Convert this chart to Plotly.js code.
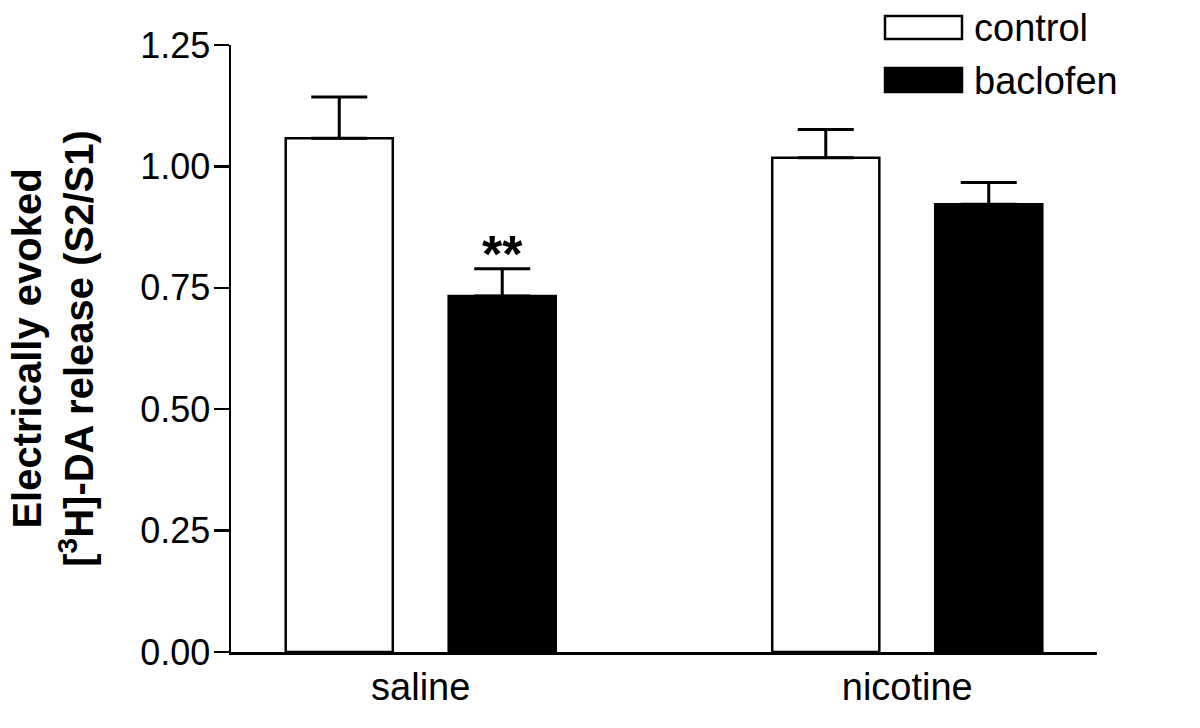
<!DOCTYPE html>
<html>
<head>
<meta charset="utf-8">
<script src="https://cdn.plot.ly/plotly-3.0.1.min.js"></script>
<style>
  body { margin: 0; background: #fff; }
  #chart { width: 1200px; height: 728px; }
</style>
</head>
<body>
<div id="chart"></div>
<script>
// datos
var grupos = ['saline', 'nicotine'];
var series = ['control', 'baclofen'];
var controlMedia = [1.058, 1.018];
var controlError = [0.085, 0.058];
var baclofenMedia = [0.733, 0.922];
var baclofenError = [0.056, 0.045];
var marcas = ['**', ''];
var ticksY = [0, 0.25, 0.5, 0.75, 1.0, 1.25];

var fuente = 'Arial, "Liberation Sans", sans-serif';

// margenes de la zona de dibujo (px)
var izq = 231, der = 1097, arriba = 45, abajo = 652;
function px2x(px) { return (px - izq) / (der - izq); }
function py2y(py) { return (abajo - py) / (abajo - arriba); }

function ceros(arr) { return arr.map(function () { return 0; }); }

var traceA = {
  x: grupos,
  y: controlMedia,
  name: series[0],
  type: 'bar',
  marker: { color: '#ffffff', line: { color: '#000000', width: 2.5 } },
  error_y: { type: 'data', symmetric: false, array: controlError, arrayminus: ceros(controlError),
             color: '#000000', thickness: 3, width: 28 },
  hoverinfo: 'none'
};
var traceB = {
  x: grupos,
  y: baclofenMedia,
  name: series[1],
  type: 'bar',
  marker: { color: '#000000', line: { color: '#000000', width: 2.5 } },
  error_y: { type: 'data', symmetric: false, array: baclofenError, arrayminus: ceros(baclofenError),
             color: '#000000', thickness: 3, width: 28 },
  hoverinfo: 'none'
};
var data = [traceA, traceB];

// asteriscos sobre las barras de baclofen
var notas = [];
for (var i = 0; i < grupos.length; i++) {
  if (marcas[i] !== '') {
    notas.push({
      x: i + 0.1675, y: baclofenMedia[i] + baclofenError[i],
      xref: 'x', yref: 'y', text: marcas[i], showarrow: false,
      yanchor: 'bottom', yshift: -16,
      font: { family: fuente, size: 52, weight: 'bold', color: '#000' }
    });
  }
}

// leyenda dibujada a mano (cajas largas)
var cajas = [
  { top: 16, bottom: 39, fill: '#ffffff' },
  { top: 68, bottom: 92, fill: '#000000' }
];
var formas = [];
for (var j = 0; j < series.length; j++) {
  formas.push({
    type: 'rect', xref: 'paper', yref: 'paper',
    x0: px2x(885), x1: px2x(962), y0: py2y(cajas[j].bottom), y1: py2y(cajas[j].top),
    fillcolor: cajas[j].fill, line: { color: '#000', width: 2.5 }
  });
  notas.push({
    x: px2x(972), y: py2y((cajas[j].top + cajas[j].bottom) / 2 + 1),
    xref: 'paper', yref: 'paper', xanchor: 'left', yanchor: 'middle',
    text: series[j], showarrow: false,
    font: { family: fuente, size: 38, color: '#000' }
  });
}

var layout = {
  width: 1200,
  height: 728,
  margin: { l: izq, r: 1200 - der, t: arriba, b: 728 - abajo },
  paper_bgcolor: '#ffffff',
  plot_bgcolor: '#ffffff',
  showlegend: false,
  barmode: 'group',
  bargap: 0.33,
  bargroupgap: 0.343,
  font: { family: fuente, color: '#000' },
  xaxis: {
    type: 'category',
    range: [-0.39, 1.39],
    showline: true, linecolor: '#000', linewidth: 2.5,
    showgrid: false, zeroline: false, ticks: '',
    tickfont: { family: fuente, size: 38, color: '#000' }
  },
  yaxis: {
    range: [0, 1.25],
    tickvals: ticksY,
    tickformat: '.2f',
    showline: true, linecolor: '#000', linewidth: 2.5,
    showgrid: false, zeroline: false,
    ticks: 'outside', ticklen: 15, tickwidth: 2.5, tickcolor: '#000',
    ticklabelstandoff: -4,
    tickfont: { family: fuente, size: 36, color: '#000' },
    title: {
      text: 'Electrically evoked<br>[<sup>3</sup>H]-DA release (S2/S1)',
      font: { family: fuente, size: 40, weight: 'bold', color: '#000' },
      standoff: 34
    }
  },
  shapes: formas,
  annotations: notas
};

Plotly.newPlot('chart', data, layout, { staticPlot: true });
</script>
</body>
</html>
